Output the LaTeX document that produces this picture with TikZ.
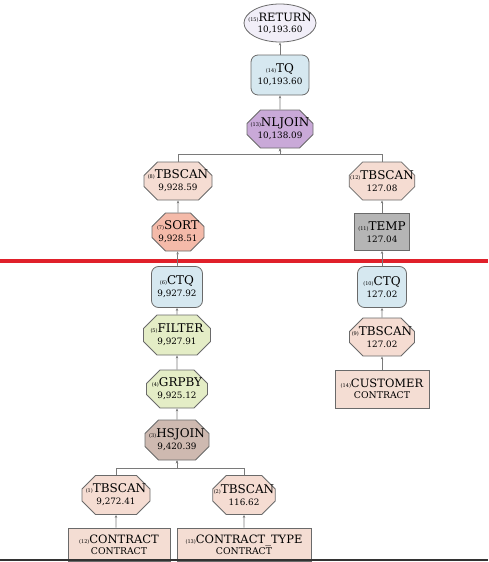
\documentclass[tikz,border=0pt]{standalone}
\usepackage{fontspec}
\setmainfont{DejaVu Serif}
\usetikzlibrary{shapes.geometric,shapes.misc,arrows.meta}

\definecolor{edgegray}{HTML}{6A6A6A}
\definecolor{wirec}{HTML}{7A7A7A}
\definecolor{retfill}{HTML}{F1EEF8}
\definecolor{tqfill}{HTML}{D6E8F0}
\definecolor{nlfill}{HTML}{C9A9D8}
\definecolor{scanfill}{HTML}{F5DCD2}
\definecolor{sortfill}{HTML}{F4BAA9}
\definecolor{tempfill}{HTML}{B5B5B5}
\definecolor{grpfill}{HTML}{E4EDC6}
\definecolor{hsfill}{HTML}{CEB9B0}
\definecolor{tblfill}{HTML}{F4DDD3}
\definecolor{cutred}{HTML}{E0202A}

% operator number, name and cost
\newcommand\opnum[1]{{\fontsize{5}{6}\selectfont(#1)}}
\newcommand\oplab[3]{\opnum{#1}#2\\[-1pt]{\fontsize{8.8}{10}\selectfont #3}}
\newcommand\tbllab[3]{{\fontsize{11.5}{13}\selectfont\opnum{#1}#2}\\[-2pt]{\fontsize{9.3}{10}\selectfont #3}}

\begin{document}
\begin{tikzpicture}[x=1pt,y=-1pt,
  base/.style={draw=edgegray, line width=0.8pt, align=center,
    font=\fontsize{12}{13}\selectfont, inner sep=0pt},
  oct/.style={base, chamfered rectangle, chamfered rectangle xsep=7pt,
    chamfered rectangle ysep=6.5pt, inner xsep=-6pt, inner ysep=-1.5pt,
    minimum height=38pt},
  rbox/.style={base, rectangle, rounded corners=7pt, minimum height=40pt},
  sbox/.style={base, rectangle},
  conn/.style={draw=wirec, line width=0.7pt, -{Stealth[length=3pt,width=2.5pt]}}
]
\useasboundingbox (0,0) rectangle (488,562);

% upper part of the plan
\node[base, ellipse, fill=retfill, minimum width=72pt, minimum height=38pt, inner xsep=-7pt, inner ysep=-2pt, font=\fontsize{11.5}{12}\selectfont] (ret) at (280,23) {\oplab{15}{RETURN}{10,193.60}};
\node[rbox, fill=tqfill, minimum width=58pt] (tq) at (280,75) {\oplab{14}{TQ}{10,193.60}};
\node[oct, fill=nlfill, minimum width=66pt] (nl) at (280,129) {\oplab{13}{NLJOIN}{10,138.09}};
\node[oct, fill=scanfill, minimum width=68pt] (tb8) at (178,181) {\oplab{8}{TBSCAN}{9,928.59}};
\node[oct, fill=sortfill, minimum width=52pt] (sort) at (178,232) {\oplab{7}{SORT}{9,928.51}};
\node[oct, fill=scanfill, minimum width=65pt] (tb12) at (382,181) {\oplab{12}{TBSCAN}{127.08}};
\node[sbox, fill=tempfill, minimum width=55pt, minimum height=37pt] (temp) at (382,232) {\oplab{11}{TEMP}{127.04}};

% cut line
\draw[cutred, line width=4pt] (0,261) -- (488,261);

% lower left branch
\node[rbox, fill=tqfill, minimum width=51pt, minimum height=41pt] (ctq6) at (177,287) {\oplab{6}{CTQ}{9,927.92}};
\node[oct, fill=grpfill, minimum width=67pt, minimum height=40pt] (filt) at (177,335) {\oplab{5}{FILTER}{9,927.91}};
\node[oct, fill=grpfill, minimum width=61pt] (grp) at (177,389) {\oplab{4}{GRPBY}{9,925.12}};
\node[oct, fill=hsfill, minimum width=64pt, minimum height=40pt] (hs) at (177,440) {\oplab{3}{HSJOIN}{9,420.39}};
\node[oct, fill=scanfill, minimum width=68pt, minimum height=39pt] (tb1) at (116,495) {\oplab{1}{TBSCAN}{9,272.41}};
\node[oct, fill=scanfill, minimum width=62pt, minimum height=39pt] (tb2) at (244,495) {\oplab{2}{TBSCAN}{116.62}};
\node[sbox, fill=tblfill, minimum width=102pt, minimum height=33pt] (tcon) at (119,544.5) {\tbllab{12}{CONTRACT}{CONTRACT}};
\node[sbox, fill=tblfill, minimum width=134pt, minimum height=33pt] (tctype) at (244,544.5) {\tbllab{13}{CONTRACT\_TYPE}{CONTRACT}};

% lower right branch
\node[rbox, fill=tqfill, minimum width=49pt, minimum height=41pt] (ctq10) at (382,287) {\oplab{10}{CTQ}{127.02}};
\node[oct, fill=scanfill, minimum width=65pt] (tb9) at (382,337) {\oplab{9}{TBSCAN}{127.02}};
\node[sbox, fill=tblfill, minimum width=94pt, minimum height=38pt] (tcust) at (382,389) {\tbllab{14}{CUSTOMER}{CONTRACT}};

% bottom edge
\draw[black!80, line width=1.5pt] (0,560) -- (488,560);

% connectors
\draw[conn] (tq) -- (ret);
\draw[conn] (nl) -- (tq);
\draw[conn] (tb8.north) -- ++(0,-7) -| (nl.south);
\draw[conn] (tb12.north) -- ++(0,-7) -| (nl.south);
\draw[conn] (sort) -- (tb8);
\draw[conn] (temp) -- (tb12);
\draw[conn] (ctq6) -- (sort);
\draw[conn] (ctq10) -- (temp);
\draw[conn] (filt) -- (ctq6);
\draw[conn] (grp) -- (filt);
\draw[conn] (hs) -- (grp);
\draw[conn] (tb1.north) -- ++(0,-7) -| (hs.south);
\draw[conn] (tb2.north) -- ++(0,-7) -| (hs.south);
\draw[conn] (tcon.north -| tb1) -- (tb1);
\draw[conn] (tctype) -- (tb2);
\draw[conn] (tb9) -- (ctq10);
\draw[conn] (tcust) -- (tb9);
\end{tikzpicture}
\end{document}
